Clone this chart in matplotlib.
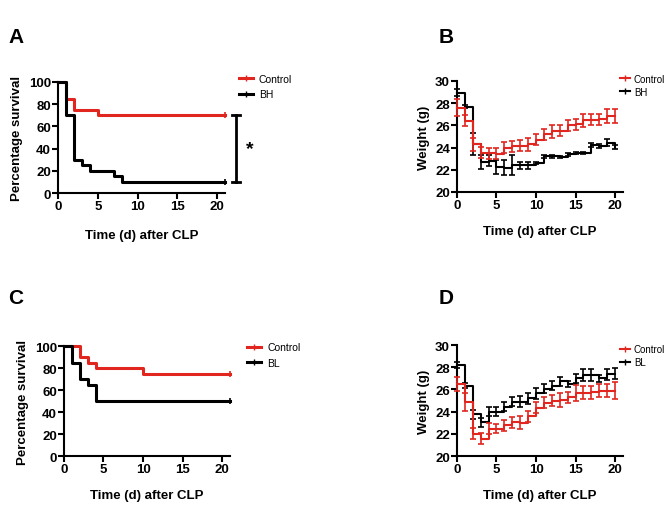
import matplotlib
matplotlib.use('Agg')
import matplotlib.pyplot as plt
from matplotlib.lines import Line2D

plt.rcParams['font.family'] = ['Liberation Sans', 'DejaVu Sans']

RED = '#e0261f'
BLACK = '#000000'

# survival data (Kaplan-Meier steps)
surv_days_a_ctrl = [0, 1, 2, 5, 21]
surv_a_ctrl = [100, 85, 75, 70, 70]
surv_days_a_bh = [0, 1, 2, 3, 4, 7, 8, 21]
surv_a_bh = [100, 70, 30, 25, 20, 15, 10, 10]

surv_days_c_ctrl = [0, 2, 3, 4, 10, 21]
surv_c_ctrl = [100, 90, 85, 80, 75, 75]
surv_days_c_bl = [0, 1, 2, 3, 4, 21]
surv_c_bl = [100, 85, 70, 65, 50, 50]

# weight data
days = list(range(21))
wt_b_ctrl = [27.6, 26.4, 24.3, 23.55, 23.5, 23.45, 24.0, 24.1, 24.15, 24.3, 24.7,
             25.2, 25.45, 25.5, 26.0, 26.1, 26.45, 26.5, 26.55, 26.85, 26.85]
err_b_ctrl = [0.8, 0.5, 0.6, 0.5, 0.5, 0.5, 0.5, 0.5, 0.5, 0.6, 0.5,
              0.5, 0.6, 0.5, 0.5, 0.5, 0.6, 0.5, 0.5, 0.6, 0.6]
wt_b_bh = [28.95, 27.7, 24.3, 22.7, 22.8, 22.25, 22.2, 22.45, 22.4, 22.4, 22.6,
           23.2, 23.2, 23.15, 23.4, 23.5, 23.5, 24.25, 24.15, 24.45, 24.05]
err_b_bh = [0.3, 0.1, 1.0, 0.6, 0.5, 0.6, 0.7, 0.9, 0.3, 0.3, 0.1,
            0.15, 0.15, 0.1, 0.15, 0.1, 0.1, 0.2, 0.15, 0.3, 0.2]

wt_d_ctrl = [26.5, 24.9, 22.0, 21.55, 22.45, 22.45, 22.75, 23.05, 23.0, 23.6, 24.35,
             24.8, 25.0, 25.05, 25.3, 25.7, 25.7, 25.75, 25.9, 25.9, 25.9]
err_d_ctrl = [0.6, 0.8, 0.5, 0.5, 0.5, 0.4, 0.5, 0.5, 0.6, 0.5, 0.5,
              0.5, 0.5, 0.6, 0.5, 0.7, 0.6, 0.6, 0.6, 0.6, 0.8]
wt_d_bl = [28.2, 26.35, 23.75, 23.05, 24.0, 24.0, 24.45, 24.9, 24.9, 25.2, 25.65,
           26.05, 26.35, 26.75, 26.5, 27.0, 27.3, 27.3, 27.0, 27.35, 27.4]
err_d_bl = [0.3, 0.2, 0.4, 0.4, 0.4, 0.4, 0.4, 0.4, 0.5, 0.5, 0.5,
            0.4, 0.4, 0.4, 0.3, 0.4, 0.5, 0.5, 0.3, 0.5, 0.5]

fig = plt.figure(figsize=(6.72, 5.06), dpi=100)


def style_axes(ax):
    for s in ['top', 'right']:
        ax.spines[s].set_visible(False)
    for s in ['left', 'bottom']:
        ax.spines[s].set_linewidth(1.5)
    ax.tick_params(width=1.5, length=4, labelsize=9.5, pad=1)
    for lab in ax.get_xticklabels() + ax.get_yticklabels():
        lab.set_fontweight('bold')


def survival(ax, d1, s1, d2, s2, name2, leg_xy, xpad):
    ax.step(d1, s1, where='post', color=RED, lw=2.2, clip_on=False, zorder=3)
    ax.step(d2, s2, where='post', color=BLACK, lw=2.2, clip_on=False, zorder=3)
    ax.plot([d1[-1]], [s1[-1]], marker='|', color=RED, ms=5, mew=1.2, clip_on=False)
    ax.plot([d2[-1]], [s2[-1]], marker='|', color=BLACK, ms=5, mew=1.2, clip_on=False)
    ax.set_xlim(0, 21)
    ax.set_ylim(0, 100)
    ax.set_xticks([0, 5, 10, 15, 20])
    ax.set_yticks([0, 20, 40, 60, 80, 100])
    ax.set_ylabel('Percentage survival', fontsize=9.5, fontweight='bold', labelpad=4)
    ax.set_xlabel('Time (d) after CLP', fontsize=9.5, fontweight='bold', labelpad=xpad)
    style_axes(ax)
    handles = [Line2D([], [], color=RED, lw=2.2, marker='|', ms=5),
               Line2D([], [], color=BLACK, lw=2.2, marker='|', ms=5)]
    ax.legend(handles, ['Control', name2], loc='upper left', bbox_to_anchor=leg_xy,
              frameon=False, fontsize=7.5, handlelength=1.3, handletextpad=0.6,
              labelspacing=0.5, borderaxespad=0)


def weight(ax, w1, e1, w2, e2, name2, leg_xy):
    ax.step(days, w1, where='post', color=RED, lw=1.5, clip_on=False, zorder=3)
    ax.errorbar(days, w1, yerr=e1, fmt='none', ecolor=RED, elinewidth=1.2,
                capsize=2.5, capthick=1.2, clip_on=False, zorder=3)
    ax.step(days, w2, where='post', color=BLACK, lw=1.5, clip_on=False, zorder=2)
    ax.errorbar(days, w2, yerr=e2, fmt='none', ecolor=BLACK, elinewidth=1.2,
                capsize=2.5, capthick=1.2, clip_on=False, zorder=2)
    ax.set_xlim(0, 21)
    ax.set_ylim(20, 30)
    ax.set_xticks([0, 5, 10, 15, 20])
    ax.set_yticks([20, 22, 24, 26, 28, 30])
    ax.set_ylabel('Weight (g)', fontsize=9.5, fontweight='bold', labelpad=4)
    ax.set_xlabel('Time (d) after CLP', fontsize=9.5, fontweight='bold', labelpad=10)
    style_axes(ax)
    handles = [Line2D([], [], color=RED, lw=1.5, marker='|', ms=4),
               Line2D([], [], color=BLACK, lw=1.5, marker='|', ms=4)]
    ax.legend(handles, ['Control', name2], loc='upper left', bbox_to_anchor=leg_xy,
              frameon=False, fontsize=7, handlelength=1.0, handletextpad=0.4,
              labelspacing=0.3, borderaxespad=0)


ax_a = fig.add_axes([0.0863, 0.6166, 0.2485, 0.2194])
survival(ax_a, surv_days_a_ctrl, surv_a_ctrl, surv_days_a_bh, surv_a_bh, 'BH', (1.06, 1.11), 12)
# significance bracket
ax_a.plot([22.4, 22.4], [10, 70], color=BLACK, lw=2, clip_on=False)
ax_a.plot([21.9, 22.9], [10, 10], color=BLACK, lw=2, clip_on=False)
ax_a.plot([21.9, 22.9], [70, 70], color=BLACK, lw=2, clip_on=False)
ax_a.text(23.6, 40, '*', fontsize=14, fontweight='bold', va='center', ha='left')

ax_b = fig.add_axes([0.680, 0.6186, 0.247, 0.2194])
weight(ax_b, wt_b_ctrl, err_b_ctrl, wt_b_bh, err_b_bh, 'BH', (0.96, 1.10))

ax_c = fig.add_axes([0.0952, 0.0968, 0.247, 0.2174])
survival(ax_c, surv_days_c_ctrl, surv_c_ctrl, surv_days_c_bl, surv_c_bl, 'BL', (1.08, 1.07), 10)

ax_d = fig.add_axes([0.680, 0.0968, 0.247, 0.2194])
weight(ax_d, wt_d_ctrl, err_d_ctrl, wt_d_bl, err_d_bl, 'BL', (0.96, 1.04))

for letter, x, y in [('A', 0.012, 0.925), ('B', 0.652, 0.925), ('C', 0.012, 0.41), ('D', 0.652, 0.41)]:
    fig.text(x, y, letter, fontsize=15, fontweight='bold', va='center', ha='left')

fig.savefig('out.png', dpi=100)
